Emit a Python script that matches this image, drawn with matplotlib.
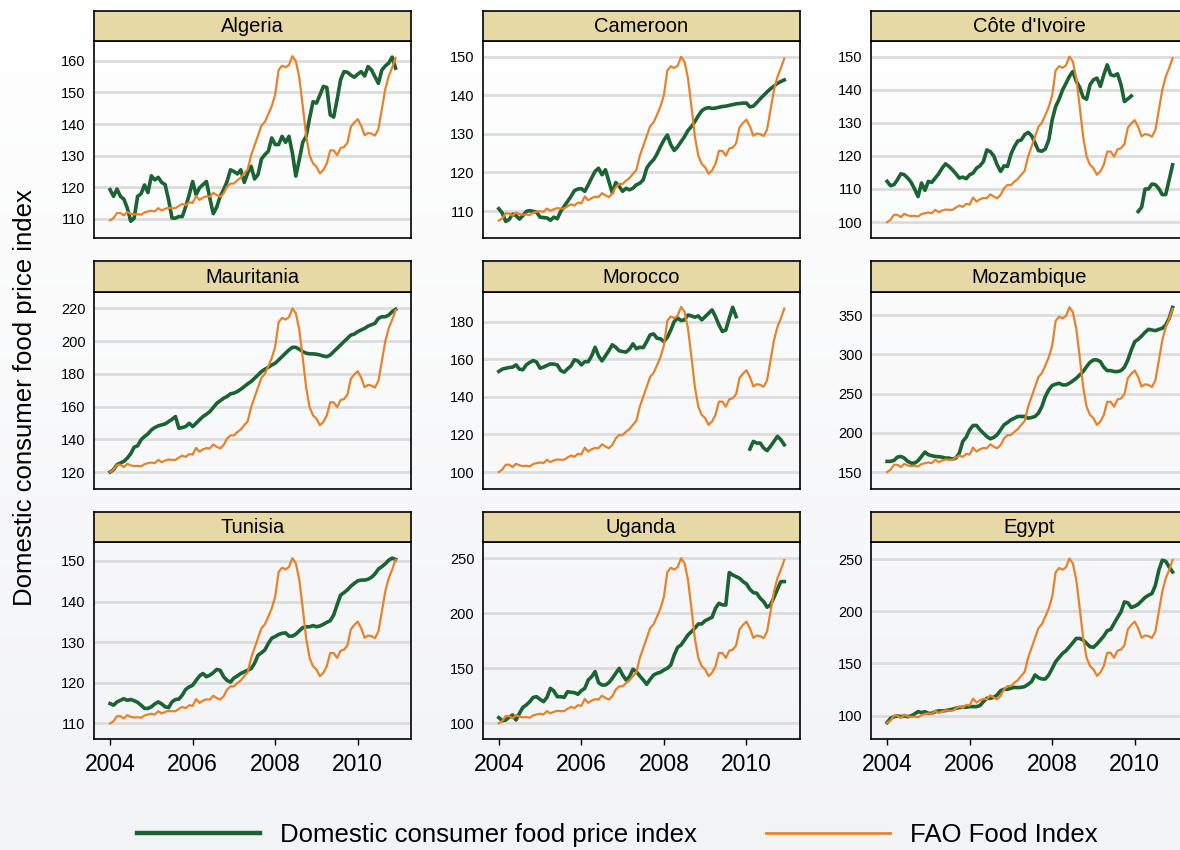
import matplotlib
matplotlib.use("Agg")
import matplotlib.pyplot as plt
import numpy as np
from matplotlib.lines import Line2D

plt.rcParams['font.family'] = ['Liberation Sans', 'DejaVu Sans']

# monthly, Jan 2004 .. Dec 2010
years = 2004 + np.arange(84) / 12.0
nan = np.nan

# FAO food index (rebased)
fao = [100.0, 100.7, 102.2, 102.2, 101.5, 102.5, 102.0, 101.8, 101.9, 101.7, 102.4, 102.7,
       102.9, 102.7, 103.7, 103.0, 103.5, 103.8, 103.7, 103.7, 104.4, 105.0, 104.6, 105.5,
       105.3, 107.4, 106.2, 106.9, 107.3, 107.2, 108.4, 107.7, 107.2, 108.2, 110.2, 111.2,
       111.2, 112.2, 113.0, 114.3, 115.5, 119.8, 122.8, 125.8, 128.8, 130.0, 132.3, 134.8,
       138.3, 145.8, 147.1, 146.6, 147.3, 150.0, 148.5, 143.5, 134.9, 125.8, 119.8, 117.3,
       116.3, 114.3, 115.3, 117.3, 121.3, 121.3, 119.8, 122.0, 122.3, 123.6, 128.5, 129.8,
       130.8, 128.8, 125.9, 126.6, 126.4, 125.8, 127.8, 133.8, 139.9, 143.9, 146.5, 149.5]

algeria = [119.2, 117.1, 119.4, 117.1, 116.2, 113.4, 109.2, 110.2, 117.1, 117.9, 120.7, 118.3,
           123.6, 122.3, 123.1, 121.5, 120.8, 116.0, 110.2, 110.2, 110.7, 110.7, 113.9, 117.6,
           121.8, 117.6, 119.8, 120.8, 121.8, 116.5, 111.6, 113.7, 117.1, 119.2, 121.8, 125.5,
           125.0, 124.2, 125.5, 121.5, 124.5, 126.6, 122.6, 124.0, 128.9, 130.3, 131.4, 135.6,
           133.5, 133.5, 136.1, 134.2, 136.1, 130.8, 123.5, 128.7, 134.2, 136.1, 141.9, 147.1,
           146.6, 149.2, 151.9, 151.6, 142.9, 142.2, 147.7, 154.0, 156.6, 156.4, 155.5, 154.8,
           155.8, 156.6, 155.2, 158.2, 157.1, 155.0, 152.9, 157.1, 158.4, 159.3, 161.2, 157.7]

cameroon = [110.6, 109.5, 107.3, 107.8, 109.2, 108.8, 107.9, 108.8, 109.9, 110.1, 109.9, 109.7,
            108.4, 108.3, 108.2, 107.6, 108.4, 108.0, 109.9, 111.2, 112.5, 113.8, 115.3, 115.7,
            115.8, 115.1, 116.8, 118.6, 120.3, 121.1, 119.4, 120.7, 117.7, 114.7, 117.4, 116.4,
            115.1, 115.9, 115.5, 115.9, 116.8, 117.2, 118.1, 121.1, 122.4, 123.3, 124.8, 126.7,
            128.4, 129.7, 127.2, 125.7, 126.7, 128.0, 129.3, 130.9, 131.9, 133.2, 134.7, 136.0,
            136.6, 136.8, 136.6, 136.7, 136.9, 137.1, 137.2, 137.4, 137.6, 137.8, 137.9, 138.0,
            138.0, 137.0, 137.2, 138.1, 139.1, 140.0, 140.9, 141.7, 142.4, 143.1, 143.6, 144.0]

cote_divoire = [112.3, 111.0, 111.3, 112.8, 114.6, 114.3, 113.3, 112.0, 110.0, 107.7, 111.8, 109.6,
                112.3, 112.0, 113.3, 114.6, 116.3, 117.6, 116.8, 115.8, 114.6, 113.3, 113.6, 113.1,
                114.3, 114.8, 116.3, 117.0, 118.3, 121.8, 121.3, 120.0, 117.3, 115.3, 117.0, 116.8,
                120.5, 122.8, 124.5, 124.8, 126.4, 127.1, 126.1, 123.9, 121.6, 121.4, 122.1, 124.8,
                130.9, 134.9, 137.1, 139.9, 141.9, 144.0, 145.5, 142.5, 140.7, 137.7, 137.1, 141.5,
                143.0, 143.5, 141.0, 144.5, 147.5, 144.5, 144.2, 144.8, 141.5, 136.4, 137.2, 138.1,
                nan, 103.2, 104.5, 110.0, 110.0, 111.5, 111.3, 110.1, 108.3, 108.3, 112.8, 117.3]

mauritania = [120.0, 121.4, 124.5, 125.5, 126.5, 128.5, 131.2, 135.2, 136.0, 139.7, 141.7, 143.3,
              145.7, 147.2, 148.2, 148.8, 149.4, 150.8, 152.2, 153.9, 146.7, 147.2, 147.8, 149.8,
              147.8, 149.8, 151.9, 153.9, 155.3, 156.9, 159.4, 162.0, 163.5, 165.1, 166.1, 167.8,
              168.2, 169.2, 170.6, 172.2, 173.9, 175.3, 177.3, 179.3, 181.4, 182.8, 184.0, 185.4,
              186.5, 188.5, 190.5, 192.6, 194.6, 196.2, 196.2, 195.0, 193.6, 192.6, 192.2, 192.2,
              192.0, 191.5, 190.9, 190.5, 191.5, 193.6, 195.6, 197.6, 199.7, 201.7, 203.7, 204.3,
              205.8, 206.8, 207.8, 209.2, 210.0, 210.9, 213.9, 214.9, 214.9, 215.9, 218.0, 219.4]

morocco = [153.6, 154.8, 155.3, 155.7, 155.9, 157.1, 154.8, 154.5, 157.1, 158.4, 159.4, 158.6,
           155.3, 155.9, 156.8, 157.6, 157.5, 157.1, 154.1, 153.2, 155.0, 156.6, 159.8, 159.2,
           157.1, 158.8, 158.8, 161.9, 166.5, 161.9, 159.2, 161.9, 164.7, 167.8, 166.5, 164.6,
           164.2, 163.9, 165.5, 168.3, 165.7, 166.5, 166.3, 169.5, 173.1, 173.6, 171.3, 171.0,
           169.5, 171.8, 175.7, 180.2, 182.0, 180.7, 181.1, 183.7, 183.2, 182.5, 183.2, 181.1,
           182.8, 184.6, 186.4, 182.8, 178.4, 174.9, 175.7, 182.0, 187.8, 182.8, nan, nan,
           nan, 112.2, 116.3, 115.4, 115.4, 112.8, 111.4, 113.7, 116.3, 119.0, 117.2, 114.5]

mozambique = [163.6, 163.6, 164.8, 169.0, 169.9, 167.8, 163.6, 161.4, 161.4, 164.4, 169.9, 175.4,
              172.0, 170.8, 169.9, 169.5, 169.0, 167.8, 167.8, 166.5, 167.8, 174.2, 189.0, 194.5,
              203.8, 209.3, 209.3, 203.8, 199.6, 195.3, 192.4, 194.1, 197.5, 203.8, 210.2, 213.1,
              216.5, 218.6, 220.8, 220.8, 220.8, 218.6, 219.5, 220.8, 225.0, 233.5, 246.2, 254.7,
              260.2, 261.9, 263.1, 261.0, 261.0, 263.1, 266.1, 269.5, 273.7, 278.0, 284.3, 289.8,
              292.8, 292.8, 290.7, 283.5, 279.2, 279.2, 278.0, 278.0, 279.2, 283.5, 292.8, 305.5,
              316.1, 319.1, 323.3, 328.0, 331.8, 330.9, 330.1, 331.8, 333.1, 337.3, 345.8, 359.7]

tunisia = [114.9, 114.5, 115.3, 115.7, 116.1, 115.7, 115.9, 115.6, 115.2, 114.5, 113.7, 113.7,
           114.1, 114.8, 115.3, 114.8, 114.1, 113.9, 115.3, 115.9, 116.0, 117.0, 118.4, 119.0,
           119.4, 120.6, 121.7, 122.3, 121.5, 121.9, 122.5, 123.3, 123.1, 121.5, 120.6, 120.2,
           121.2, 121.7, 122.3, 122.7, 123.1, 123.5, 124.8, 126.8, 127.4, 128.1, 129.7, 131.0,
           131.4, 131.9, 132.2, 132.3, 131.5, 131.5, 132.0, 132.8, 133.6, 133.8, 133.8, 134.1,
           133.8, 134.0, 134.4, 134.9, 135.3, 136.7, 139.2, 141.6, 142.2, 142.9, 143.8, 144.5,
           145.1, 145.3, 145.3, 145.5, 146.0, 146.8, 148.0, 148.6, 149.3, 150.2, 150.7, 150.4]

uganda = [105.2, 102.4, 103.0, 105.5, 107.6, 103.0, 109.1, 114.5, 116.7, 119.7, 123.6, 124.2,
          121.8, 119.7, 123.6, 131.8, 129.4, 124.2, 124.2, 123.6, 128.8, 128.2, 127.9, 126.4,
          129.7, 131.8, 139.4, 142.4, 147.0, 137.0, 134.8, 134.8, 137.0, 140.9, 145.5, 150.0,
          143.9, 139.4, 142.4, 149.1, 147.0, 143.0, 139.4, 135.5, 140.0, 143.9, 145.5, 146.4,
          148.5, 150.0, 153.0, 162.1, 169.1, 171.2, 175.8, 180.3, 183.3, 186.4, 190.3, 190.3,
          193.3, 194.8, 196.4, 204.5, 209.1, 207.6, 207.6, 237.0, 234.8, 233.3, 231.8, 228.8,
          226.7, 221.8, 218.8, 218.2, 213.6, 210.6, 205.5, 207.6, 214.5, 221.8, 228.8, 228.8]

egypt = [93.3, 97.4, 99.0, 99.7, 99.0, 99.7, 99.0, 99.7, 101.6, 103.8, 102.9, 103.8,
         102.2, 102.2, 103.8, 104.5, 104.5, 104.8, 105.4, 106.1, 107.0, 107.7, 108.0, 108.0,
         108.6, 108.6, 108.6, 109.6, 113.4, 116.6, 116.6, 117.5, 119.8, 123.9, 125.2, 125.2,
         126.2, 127.1, 126.8, 127.1, 127.8, 130.0, 132.5, 138.9, 136.3, 135.1, 135.1, 138.9,
         145.2, 151.6, 155.7, 159.6, 162.1, 165.9, 169.8, 173.9, 173.9, 172.3, 169.2, 166.0,
         165.4, 168.5, 172.3, 176.2, 181.3, 182.5, 188.3, 194.0, 199.4, 208.9, 208.0, 203.5,
         204.8, 206.7, 209.9, 213.1, 215.3, 216.9, 224.8, 239.2, 248.8, 247.8, 242.4, 237.6]

countries = ["Algeria", "Cameroon", "Côte d'Ivoire",
             "Mauritania", "Morocco", "Mozambique",
             "Tunisia", "Uganda", "Egypt"]
domestic = [algeria, cameroon, cote_divoire,
            mauritania, morocco, mozambique,
            tunisia, uganda, egypt]
yticks = [range(110, 161, 10), range(110, 151, 10), range(100, 151, 10),
          range(120, 221, 20), range(100, 181, 20), range(150, 351, 50),
          range(110, 151, 10), range(100, 251, 50), range(100, 251, 50)]
ylims = [(103.9, 166.3), (103.0, 154.1), (95.2, 154.7),
         (109.8, 230.2), (91.1, 196.1), (128.8, 379.7),
         (106.1, 154.6), (85.5, 264.5), (77.3, 266.0)]
# where FAO=100 and FAO=150 sit on each panel's own axis (secondary scale)
fao_pos = [(109.5, 161.5), (107.5, 150.0), (100.0, 150.0),
           (120.0, 220.0), (100.0, 188.0), (150.0, 360.0),
           (110.0, 150.7), (100.0, 250.0), (93.0, 250.5)]

GREEN = '#1a6333'
ORANGE = '#e8822a'
STRIP = '#e6d9a6'

W, H = 1180, 850
fig = plt.figure(figsize=(W / 100, H / 100), dpi=100)

# soft vertical gradient background
bg = fig.add_axes([0, 0, 1, 1], zorder=-10)
top = np.array([1.0, 1.0, 1.0])
bot = np.array([0.95, 0.953, 0.962])
t = np.linspace(0, 1, 200)[:, None]
grad = (top * (1 - t) + bot * t)[:, None, :]
bg.imshow(grad, aspect='auto', extent=[0, 1, 0, 1])
bg.axis('off')

col_left = [94, 482.7, 871]
row_top = [41, 291.7, 542.3]
aw, ah, sh = 317, 197, 30.5

for i, name in enumerate(countries):
    r, c = divmod(i, 3)
    l = col_left[c] / W
    b = 1 - (row_top[r] + ah) / H
    ax = fig.add_axes([l, b, aw / W, ah / H])
    ax.set_facecolor('none')
    ax.set_xlim(2003.61, 2011.29)
    ax.set_ylim(*ylims[i])
    ax.set_yticks(list(yticks[i]))
    ax.grid(axis='y', color='#dcdcdc', linewidth=2.0)
    ax.set_axisbelow(True)
    ax.tick_params(axis='y', length=0, pad=6, labelsize=10.5)
    for sp in ax.spines.values():
        sp.set_linewidth(1.2)
    if r == 2:
        ax.set_xticks([2004, 2006, 2008, 2010])
        ax.tick_params(axis='x', length=4, width=1, pad=6, labelsize=16.5)
    else:
        ax.set_xticks([])
    ax.plot(years, domestic[i], color=GREEN, linewidth=2.6, solid_joinstyle='round')

    # FAO index on a hidden secondary scale
    ax2 = ax.twinx()
    lo, hi = fao_pos[i]
    k = 50.0 / (hi - lo)
    y0, y1 = ylims[i]
    ax2.set_ylim(100 + (y0 - lo) * k, 100 + (y1 - lo) * k)
    ax2.plot(years, fao, color=ORANGE, linewidth=1.6)
    ax2.set_yticks([])
    for sp in ax2.spines.values():
        sp.set_visible(False)

    # title strip
    st = fig.add_axes([l, 1 - row_top[r] / H, aw / W, sh / H])
    st.set_facecolor(STRIP)
    st.set_xticks([])
    st.set_yticks([])
    for sp in st.spines.values():
        sp.set_linewidth(1.2)
    st.text(0.5, 0.47, name, ha='center', va='center', fontsize=14.5,
            transform=st.transAxes)

fig.text(0.021, 0.532, 'Domestic consumer food price index', rotation=90,
         ha='center', va='center', fontsize=18.5)

handles = [Line2D([], [], color=GREEN, linewidth=3.2),
           Line2D([], [], color=ORANGE, linewidth=2.0)]
fig.legend(handles, ['Domestic consumer food price index', 'FAO Food Index'],
           loc='center', bbox_to_anchor=(0.523, 1 - 835 / H), ncol=2, frameon=False,
           fontsize=18.5, handlelength=4.8, handletextpad=0.78, columnspacing=2.7)

fig.savefig('out.png', dpi=100)
